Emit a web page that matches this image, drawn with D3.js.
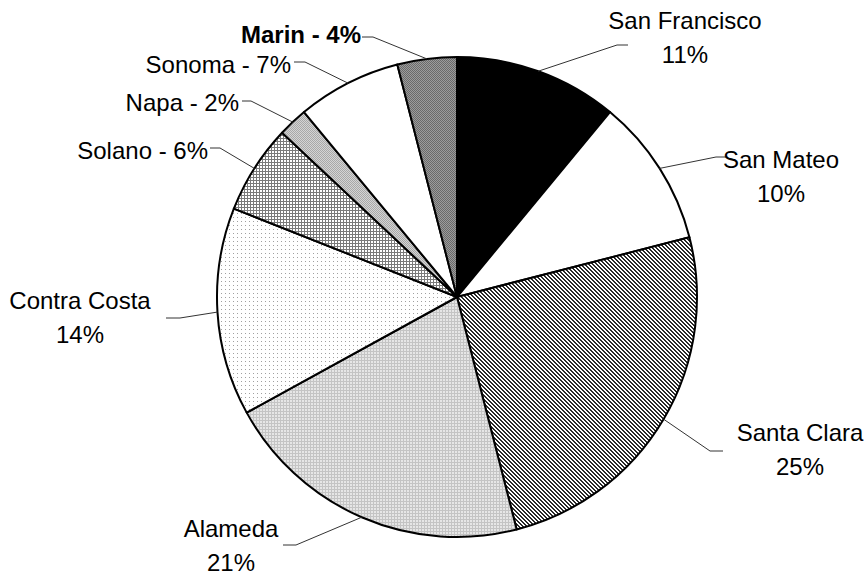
<!DOCTYPE html>
<html>
<head>
<meta charset="utf-8">
<script src="https://cdn.jsdelivr.net/npm/d3@7"></script>
<style>
  html, body { margin: 0; padding: 0; background: #fff; }
  svg { display: block; }
  text { font-family: "Liberation Sans", Arial, sans-serif; font-size: 24px; fill: #000; }
</style>
</head>
<body>
<svg id="chart" width="866" height="576"></svg>
<script>
// Bay Area county shares, clockwise from 12 o'clock
const counties = ["San Francisco", "San Mateo", "Santa Clara", "Alameda", "Contra Costa", "Solano", "Napa", "Sonoma", "Marin"];
const shares = [11, 10, 25, 21, 14, 6, 2, 7, 4];
const fills = ["solid-black", "white", "diag", "alameda", "dots", "grid", "napa", "white", "marin"];

// label layout: two-line labels (name over percent) or single-line "name - pct%"
const labelStyle = ["stack", "stack", "stack", "stack", "stack", "inline", "inline", "inline", "inline-bold"];
const labelAt = [[685, 29], [781, 168], [800, 441], [231, 537], [80, 309], [208, 159], [239, 111], [291, 73], [361, 43]];
const knee = [[617, 45], [716, 157], [710, 451], [296, 545], [180, 318], [220, 148], [251, 101], [305, 62], [373, 37]];
const stubEnd = [[628, 45], [727, 157], [723, 451], [283, 545], [166, 318], [210, 148], [242, 101], [294, 62], [362, 37]];

const svg = d3.select("#chart");
const cx = 457, cy = 297, R = 240;

// fill patterns
const defs = svg.append("defs");
function pixelPattern(id, size, bg, pixels, color) {
  const p = defs.append("pattern").attr("id", id).attr("patternUnits", "userSpaceOnUse")
    .attr("width", size).attr("height", size);
  p.append("rect").attr("width", size).attr("height", size).attr("fill", bg);
  pixels.forEach(([x, y]) => p.append("rect").attr("x", x).attr("y", y).attr("width", 1).attr("height", 1).attr("fill", color));
}
// diagonal stripes
pixelPattern("diag", 4, "#ffffff", [[0,0],[1,0],[1,1],[2,1],[2,2],[3,2],[3,3],[0,3]], "#2a2a2a");
// fine mid-gray texture
pixelPattern("marin", 2, "#9c9c9c", [[0,0],[1,1]], "#6a6a6a");
// fine light-gray texture
pixelPattern("napa", 2, "#d4d4d4", [[0,0],[1,1]], "#a8a8a8");
// crosshatch grid
pixelPattern("grid", 3, "#ffffff", [[0,0],[1,0],[2,0],[0,1],[0,2]], "#7a7a7a");
// light grid
pixelPattern("alameda", 3, "#e6e6e6", [[0,0],[1,0],[2,0],[0,1],[0,2]], "#c4c4c4");
// sparse dots
pixelPattern("dots", 4, "#ffffff", [[0,0]], "#a0a0a0");

function fillFor(key) {
  if (key === "solid-black") return "#000";
  if (key === "white") return "#fff";
  return "url(#" + key + ")";
}

const pie = d3.pie().sort(null).value(d => d).startAngle(0).endAngle(2 * Math.PI);
const arcs = pie(shares);
const arcGen = d3.arc().innerRadius(0).outerRadius(R);

const g = svg.append("g").attr("transform", `translate(${cx},${cy})`);
g.selectAll("path.slice").data(arcs).enter().append("path")
  .attr("class", "slice")
  .attr("d", arcGen)
  .attr("fill", (d, i) => fillFor(fills[i]))
  .attr("stroke", "#000")
  .attr("stroke-width", 2)
  .attr("stroke-linejoin", "round");

// leader lines from each slice's mid-arc point
arcs.forEach((d, i) => {
  const mid = (d.startAngle + d.endAngle) / 2;
  const sx = cx + R * Math.sin(mid), sy = cy - R * Math.cos(mid);
  svg.append("polyline")
    .attr("points", [[sx, sy], knee[i], stubEnd[i]].map(p => p.join(",")).join(" "))
    .attr("fill", "none")
    .attr("stroke", "#333")
    .attr("stroke-width", 1);
});

// labels
counties.forEach((name, i) => {
  const [x, y] = labelAt[i];
  const style = labelStyle[i];
  if (style === "stack") {
    const t = svg.append("text").attr("x", x).attr("y", y).attr("text-anchor", "middle");
    t.append("tspan").attr("x", x).text(name);
    t.append("tspan").attr("x", x).attr("dy", 34).text(shares[i] + "%");
  } else {
    svg.append("text").attr("x", x).attr("y", y).attr("text-anchor", "end")
      .attr("font-weight", style === "inline-bold" ? "bold" : null)
      .text(name + " - " + shares[i] + "%");
  }
});
</script>
</body>
</html>
